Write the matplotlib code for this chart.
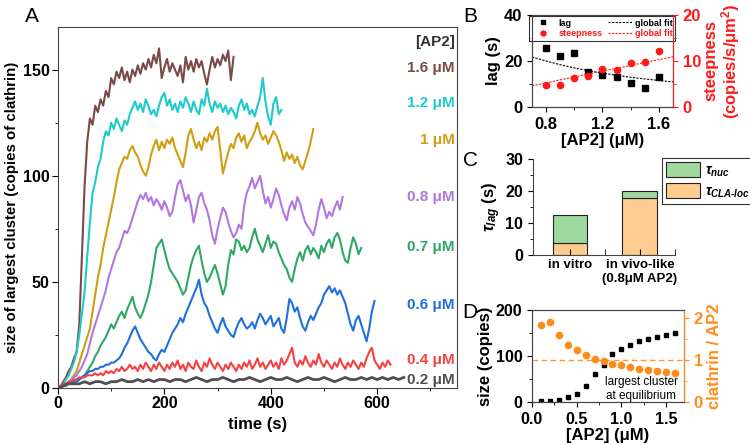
import numpy as np
import matplotlib
matplotlib.use("Agg")
import matplotlib.pyplot as plt
from matplotlib.ticker import MultipleLocator, FixedLocator, FormatStrFormatter
from matplotlib.lines import Line2D
from matplotlib.patches import Patch

plt.rcParams['font.family'] = ['Liberation Sans', 'DejaVu Sans']
plt.rcParams['font.weight'] = 'bold'
plt.rcParams['axes.labelweight'] = 'bold'
plt.rcParams['mathtext.fontset'] = 'custom'
plt.rcParams['mathtext.rm'] = 'Liberation Sans:bold'
plt.rcParams['mathtext.it'] = 'Liberation Sans:italic:bold'
plt.rcParams['mathtext.bf'] = 'Liberation Sans:bold'

# ---------------- DATA ----------------
# Panel A: largest cluster size traces (sampled every dt seconds)
dt = 5
dt_gray = 10
trace_16 = [0, 1, 3, 5, 8, 10, 14, 17, 30, 62, 95, 116, 127, 124, 133, 130, 136, 133, 140, 137,
            146, 143, 149, 146, 151, 145, 149, 144, 150, 147, 152, 148, 153, 150, 155, 151, 157, 153,
            160, 146, 151, 155, 149, 153, 150, 147, 152, 144, 156, 150, 154, 149, 155, 151, 154, 148,
            143, 150, 156, 151, 155, 152, 157, 154, 159, 145, 156]
trace_12 = [0, 1, 2, 4, 6, 9, 12, 17, 25, 35, 45, 62, 78, 92, 97, 104, 108, 116, 121, 119, 125, 122,
            127, 124, 121, 126, 124, 129, 132, 135, 131, 134, 130, 136, 133, 129, 131, 128, 133, 137,
            139, 133, 136, 131, 134, 130, 135, 132, 137, 134, 130, 135, 131, 129, 136, 133, 141, 134,
            130, 135, 132, 134, 130, 133, 129, 132, 130, 127, 133, 136, 131, 134, 129, 131, 128, 133,
            137, 146, 135, 128, 124, 134, 137, 129, 131]
trace_10 = [0, 0.5, 1, 2, 3, 4, 6, 8, 12, 16, 20, 24, 28, 36, 44, 52, 58, 66, 72, 78, 84, 90, 97, 103,
            106, 109, 108, 112, 114, 111, 109, 105, 102, 100, 104, 110, 114, 117, 112, 116, 113, 117,
            115, 118, 113, 110, 107, 104, 111, 119, 122, 117, 113, 116, 112, 118, 116, 120, 117, 121,
            123, 112, 101, 106, 111, 115, 113, 118, 120, 116, 119, 113, 116, 118, 121, 125, 120, 117,
            119, 115, 118, 121, 119, 116, 112, 107, 111, 108, 110, 106, 109, 105, 103, 107, 111, 116, 122]
trace_08 = [0, 0.5, 1, 2, 3, 4, 5, 6, 8, 10, 13, 16, 21, 26, 30, 34, 38, 42, 46, 52, 56, 60, 64, 66,
            70, 74, 73, 76, 80, 84, 88, 91, 89, 92, 88, 90, 86, 89, 87, 84, 88, 85, 81, 83, 90, 96, 98,
            93, 88, 91, 86, 78, 84, 90, 92, 87, 84, 79, 72, 68, 75, 80, 85, 83, 78, 74, 71, 73, 77, 75,
            86, 92, 95, 99, 94, 97, 100, 93, 87, 90, 85, 89, 94, 91, 86, 82, 79, 85, 88, 84, 90, 87, 82,
            78, 76, 74, 72, 77, 84, 89, 85, 80, 83, 81, 85, 88, 84, 90]
trace_07 = [0, 0.5, 1, 1.5, 2, 3, 3, 4, 4, 5, 6, 8, 10, 12, 15, 17, 20, 22, 24, 27, 30, 28, 31, 34,
            36, 33, 37, 40, 43, 38, 35, 33, 36, 40, 44, 50, 58, 66, 68, 70, 65, 60, 56, 54, 52, 50, 47,
            44, 46, 52, 58, 62, 65, 67, 60, 54, 50, 52, 55, 58, 54, 49, 44, 48, 58, 65, 63, 70, 69, 65,
            67, 64, 66, 71, 75, 70, 67, 64, 68, 72, 66, 69, 68, 64, 61, 58, 56, 52, 50, 56, 61, 64, 60,
            65, 67, 63, 66, 64, 61, 67, 64, 68, 70, 66, 71, 73, 70, 64, 60, 59, 66, 71, 68, 63, 66]
trace_06 = [0, 0.5, 1, 1, 2, 2, 3, 3, 4, 5, 6, 7, 8, 8, 9, 9, 10, 10, 11, 11, 12, 12, 13, 14, 16, 19,
            21, 24, 27, 29, 26, 23, 21, 19, 17, 16, 14, 13, 16, 18, 17, 20, 23, 26, 28, 30, 33, 31, 35,
            38, 41, 44, 47, 51, 44, 40, 38, 34, 31, 28, 26, 30, 33, 29, 27, 25, 24, 28, 31, 33, 30, 28,
            29, 31, 28, 32, 35, 33, 30, 32, 34, 29, 31, 33, 28, 26, 33, 42, 40, 36, 38, 33, 29, 27, 31,
            34, 32, 35, 38, 40, 44, 46, 48, 45, 47, 44, 46, 43, 40, 35, 30, 27, 32, 34, 30, 26, 22, 28,
            36, 41]
trace_04 = [0, 1, 2, 2, 3, 3, 4, 4, 5, 5, 5, 6, 6, 6, 7, 6, 7, 6, 8, 7, 8, 7, 9, 8, 10, 8, 9, 11, 9,
            10, 8, 11, 9, 12, 10, 8, 11, 9, 12, 10, 8, 11, 9, 12, 10, 13, 9, 11, 8, 12, 10, 9, 13, 10, 8,
            12, 10, 14, 11, 9, 12, 10, 8, 11, 9, 12, 10, 8, 11, 9, 12, 10, 13, 9, 11, 14, 10, 12, 9, 11,
            13, 10, 12, 9, 14, 11, 13, 16, 19, 12, 10, 13, 11, 15, 12, 10, 13, 11, 16, 12, 10, 13, 11, 9,
            12, 10, 14, 11, 9, 12, 10, 13, 11, 9, 12, 10, 14, 17, 19, 13, 11, 9, 12, 10, 13, 11]
trace_02 = [0, 1, 2, 2, 2, 3, 2, 3, 3, 2, 3, 3, 4, 3, 3, 4, 3, 4, 3, 4, 4, 3, 4, 4, 3, 4, 5, 4, 3, 4,
            4, 5, 4, 3, 4, 4, 5, 4, 3, 4, 5, 4, 4, 5, 4, 3, 4, 5, 4, 4, 5, 4, 3, 4, 5, 4, 4, 5, 4, 5, 4,
            5, 4, 5, 4, 5]
conc_labels = ["1.6 μM", "1.2 μM", "1 μM", "0.8 μM", "0.7 μM", "0.6 μM", "0.4 μM", "0.2 μM"]
conc_colors = ["#7A4A48", "#1CCCCC", "#D19E12", "#B377E0", "#2EA865", "#1F6FDD", "#F54242", "#505050"]

# Panel B
ap2_b = [0.8, 0.9, 1.0, 1.1, 1.2, 1.3, 1.4, 1.5, 1.6]
lag_vals = [25.8, 22.3, 23.3, 15.3, 13.9, 13.2, 10.6, 8.1, 13.2]
steep_vals = [4.8, 4.7, 6.2, 6.7, 8.3, 8.0, 9.6, 9.8, 12.2]
fit_x = [0.7, 0.8, 0.9, 1.0, 1.1, 1.2, 1.3, 1.4, 1.5, 1.6, 1.7]
lag_fit = [21.7, 20.0, 18.4, 17.0, 15.8, 14.7, 13.8, 12.9, 12.2, 11.5, 10.9]
steep_fit = [4.6, 5.2, 5.9, 6.5, 7.2, 7.8, 8.4, 9.0, 9.7, 10.3, 10.9]

# Panel C
c_categories = ["in vitro", "in vivo-like\n(0.8μM AP2)"]
tau_cla_loc = [3.8, 17.8]
tau_nuc = [8.7, 2.2]

# Panel D
ap2_d = [0.1, 0.2, 0.3, 0.4, 0.5, 0.6, 0.7, 0.8, 0.9, 1.0, 1.1, 1.2, 1.3, 1.4, 1.5, 1.6]
size_eq = [3, 3, 5, 10, 17, 35, 61, 80, 104, 115, 125, 133, 138, 141, 146, 151]
ratio_eq = [1.85, 1.91, 1.61, 1.36, 1.24, 1.12, 1.04, 0.98, 0.92, 0.88, 0.84, 0.80, 0.76, 0.75, 0.71, 0.70]

# ---------------- FIGURE ----------------
fig = plt.figure(figsize=(7.5, 4.45), dpi=100)
spine_col = "#444444"

# ---- Panel A ----
axA = fig.add_axes([0.0773, 0.128, 0.532, 0.811])
traces = [trace_16, trace_12, trace_10, trace_08, trace_07, trace_06, trace_04, trace_02]
steps = [dt] * 7 + [dt_gray]
for tr, st, col in zip(traces, steps, conc_colors):
    t = np.arange(len(tr)) * st
    axA.plot(t, tr, color=col, lw=1.5 if col != "#505050" else 2.0)
axA.set_xlim(0, 750)
axA.set_ylim(0, 170)
axA.xaxis.set_major_locator(MultipleLocator(200))
axA.xaxis.set_minor_locator(MultipleLocator(100))
axA.yaxis.set_major_locator(MultipleLocator(50))
axA.yaxis.set_minor_locator(MultipleLocator(25))
axA.tick_params(which='both', direction='out', labelsize=11.5, colors='black', pad=2)
axA.tick_params(which='major', length=4)
axA.tick_params(which='minor', length=2.5)
for s in axA.spines.values():
    s.set_color(spine_col)
axA.set_xlabel("time (s)", fontsize=12, labelpad=4)
axA.set_ylabel("size of largest cluster (copies of clathrin)", fontsize=10.8, labelpad=3)
label_py = [68, 103, 140, 197, 247, 305, 360, 380]
axA.text(0.995, (388 - 42) / 361, "[AP2]", transform=axA.transAxes, ha='right', va='center',
         fontsize=11, color='#333333')
for lab, col, py in zip(conc_labels, conc_colors, label_py):
    axA.text(0.995, (388 - py) / 361, lab, transform=axA.transAxes, ha='right', va='center',
             fontsize=11, color=col)
fig.text(32 / 750, 1 - 16 / 445, "A", fontsize=15, ha='center', va='center', fontweight='normal')

# ---- Panel B ----
axB = fig.add_axes([0.7093, 0.7596, 0.188, 0.2067])
axB2 = axB.twinx()
h_lag, = axB.plot(ap2_b, lag_vals, 's', color='black', ms=4, zorder=3)
h_lfit, = axB.plot(fit_x, lag_fit, '--', color='black', lw=0.8, dashes=(2, 1.2))
h_st, = axB2.plot(ap2_b, steep_vals, 'o', color='#FF1A1A', ms=4.5, zorder=3)
h_sfit, = axB2.plot(fit_x, steep_fit, '--', color='#FF1A1A', lw=0.8, dashes=(2, 1.2))
axB.set_xlim(0.7, 1.7)
axB.set_ylim(0, 40)
axB2.set_ylim(0, 20)
axB.set_xticks([0.8, 1.2, 1.6])
axB.xaxis.set_minor_locator(FixedLocator([1.0, 1.4]))
axB.xaxis.set_major_formatter(FormatStrFormatter('%.1f'))
axB.yaxis.set_major_locator(MultipleLocator(20))
axB.yaxis.set_minor_locator(MultipleLocator(10))
axB2.yaxis.set_major_locator(MultipleLocator(10))
axB2.yaxis.set_minor_locator(MultipleLocator(5))
axB.tick_params(which='both', direction='out', labelsize=12)
axB.tick_params(which='minor', length=2.5)
axB2.tick_params(which='both', direction='out', labelsize=12, colors='#FF1A1A')
axB2.tick_params(which='minor', length=2.5)
for s in ['left', 'top', 'bottom']:
    axB.spines[s].set_color(spine_col)
    axB2.spines[s].set_color(spine_col)
axB2.spines['right'].set_color('#FF1A1A')
axB.set_xlabel("[AP2] (μM)", fontsize=12, labelpad=1)
axB.set_ylabel("lag (s)", fontsize=12, labelpad=2)
axB2.set_ylabel("steepness\n(copies/s/μm$^2$)", fontsize=12, color='#FF1A1A', labelpad=2,
                linespacing=1.0)
leg = axB.legend([h_lag, h_st, h_lfit, h_sfit], ["lag", "steepness", "global fit", "global fit"],
                 ncol=2, loc='upper center', fontsize=6.5, frameon=True, fancybox=False,
                 edgecolor='black', handlelength=2.6, columnspacing=0.6, handletextpad=0.4,
                 borderpad=0.25, labelspacing=0.2, borderaxespad=0.15, markerscale=0.8,
                 labelcolor=['black', '#FF1A1A', 'black', '#FF1A1A'])
leg.get_frame().set_linewidth(0.8)
leg.set_zorder(5)
fig.text(470 / 750, 1 - 16 / 445, "B", fontsize=15, ha='center', va='center', fontweight='normal')

# ---- Panel C ----
axC = fig.add_axes([0.7107, 0.427, 0.189, 0.2157])
xc = np.arange(1, len(c_categories) + 1)
b1 = axC.bar(xc, tau_cla_loc, width=0.5, color='#FFCC90', edgecolor='#222222', lw=0.8)
b2 = axC.bar(xc, tau_nuc, width=0.5, bottom=tau_cla_loc, color='#A0D9A0', edgecolor='#222222', lw=0.8)
axC.set_xlim(0.47, 2.5)
axC.set_ylim(0, 30)
axC.set_xticks(xc)
axC.set_xticklabels(c_categories, fontsize=9.5, va='top')
axC.xaxis.set_minor_locator(FixedLocator([1.5, 2.5]))
axC.yaxis.set_major_locator(MultipleLocator(10))
axC.yaxis.set_minor_locator(MultipleLocator(5))
axC.tick_params(axis='y', which='both', direction='out', labelsize=11.5)
axC.tick_params(axis='y', which='minor', length=2.5)
axC.tick_params(axis='x', which='both', direction='in', length=4, pad=3)
axC.spines['top'].set_visible(False)
axC.spines['right'].set_visible(False)
axC.spines['left'].set_color(spine_col)
axC.spines['bottom'].set_color(spine_col)
axC.set_ylabel(r"$\tau_{lag}$ (s)", fontsize=12, labelpad=2)
legC = axC.legend([Patch(facecolor='#A0D9A0', edgecolor='#222222', lw=0.8),
                   Patch(facecolor='#FFCC90', edgecolor='#222222', lw=0.8)],
                  [r"$\tau_{nuc}$", r"$\tau_{CLA\text{-}loc}$"],
                  loc='upper left', bbox_to_anchor=(662 / 750, 1 - 158 / 445),
                  bbox_transform=fig.transFigure, fontsize=10, frameon=True, fancybox=False,
                  edgecolor='black', handlelength=2.4, handleheight=1.3, borderpad=0.3,
                  labelspacing=0.3, handletextpad=0.4, borderaxespad=0)
legC.get_frame().set_linewidth(0.8)
fig.text(470 / 750, 1 - 160 / 445, "C", fontsize=15, ha='center', va='center', fontweight='normal')

# ---- Panel D ----
axD = fig.add_axes([0.7093, 0.0966, 0.2027, 0.2067])
axD2 = axD.twinx()
axD.plot(ap2_d, size_eq, 's', color='black', ms=3.5, zorder=3)
axD2.plot(ap2_d, ratio_eq, 'o', color='#FF8C1A', ms=4.5, zorder=3)
axD2.axhline(1.0, color='#FF9A33', lw=1.0, ls=(0, (4, 2.5)))
axD.set_xlim(0, 1.7)
axD.set_ylim(0, 200)
axD2.set_ylim(0, 2.2)
axD.xaxis.set_major_locator(MultipleLocator(0.5))
axD.xaxis.set_minor_locator(MultipleLocator(0.25))
axD.xaxis.set_major_formatter(FormatStrFormatter('%.1f'))
axD.yaxis.set_major_locator(MultipleLocator(100))
axD.yaxis.set_minor_locator(MultipleLocator(50))
axD2.yaxis.set_major_locator(MultipleLocator(1))
axD2.yaxis.set_minor_locator(MultipleLocator(0.5))
axD.tick_params(which='both', direction='out', labelsize=11.5)
axD.tick_params(which='minor', length=2.5)
axD2.tick_params(which='both', direction='out', labelsize=12, colors='#FF8C1A')
axD2.tick_params(which='minor', length=2.5)
for s in ['left', 'top', 'bottom']:
    axD.spines[s].set_color(spine_col)
    axD2.spines[s].set_color(spine_col)
axD2.spines['right'].set_color('#FF8C1A')
axD.set_xlabel("[AP2] (μM)", fontsize=12, labelpad=1)
axD.set_ylabel("size (copies)", fontsize=12, labelpad=2)
axD2.set_ylabel("clathrin / AP2", fontsize=12, color='#FF8C1A', labelpad=3)
axD.text(0.72, 0.14, "largest cluster\nat equilibrium", transform=axD.transAxes, ha='center',
         va='center', fontsize=8.5, fontweight='normal', linespacing=1.3, zorder=4)
fig.text(470 / 750, 1 - 313 / 445, "D", fontsize=15, ha='center', va='center', fontweight='normal')

fig.savefig("out.png", dpi=100)
